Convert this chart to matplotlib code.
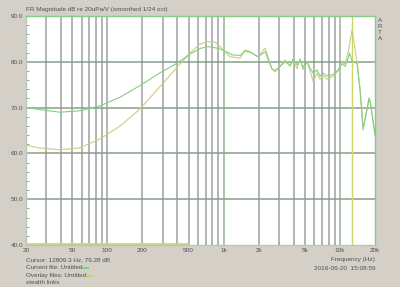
from __future__ import annotations

import matplotlib

matplotlib.use("Agg")
import matplotlib.pyplot as plt
from matplotlib.ticker import FixedLocator, NullFormatter

# current file (green) - frequency in Hz, magnitude in dB
current_freq = [20, 26, 39, 58, 87, 129, 191, 284, 398, 514, 627, 720, 800, 932,
                1135, 1180, 1384, 1528, 1687, 1976, 2270, 2607, 2767, 3055, 3373,
                3724, 3953, 4278, 4541, 4818, 5217, 5535, 5873, 6360, 6749, 7161,
                7751, 8726, 9634, 10428, 11066, 11742, 12090, 12711, 13488, 14033,
                14890, 15800, 16770, 17800, 18400, 20000]
current_db = [70.0, 69.6, 69.0, 69.3, 70.4, 72.3, 74.8, 77.6, 79.7, 81.7, 82.9,
              83.3, 83.2, 82.8, 81.8, 81.5, 81.4, 82.3, 82.1, 81.1, 82.2, 78.4,
              78.1, 79.0, 80.0, 79.2, 80.6, 79.3, 80.4, 78.8, 80.0, 78.6, 77.6,
              78.2, 76.9, 77.5, 76.9, 77.2, 78.2, 79.6, 79.0, 80.8, 81.9, 80.2,
              79.8, 79.6, 73.8, 65.5, 68.5, 72.0, 70.5, 64.0]

# overlay file (yellow)
overlay_freq = [20, 26, 39, 58, 87, 129, 191, 284, 398, 514, 627, 720, 844, 932,
                1135, 1384, 1528, 1687, 1976, 2270, 2607, 2767, 3055, 3373, 3724,
                3953, 4278, 4541, 4818, 5217, 5535, 5873, 6360, 6749, 7161, 7751,
                8726, 9634, 10428, 11066, 11742, 12711, 13488, 14033, 14890, 15800,
                16770, 17800, 18400, 20000]
overlay_db = [61.8, 61.2, 60.8, 61.2, 63.2, 66.0, 69.7, 74.6, 78.8, 81.9, 83.9,
              84.4, 84.3, 83.3, 81.1, 80.8, 82.6, 82.2, 81.1, 83.0, 78.4, 77.8,
              79.0, 80.4, 79.0, 80.4, 78.5, 80.7, 78.3, 80.0, 78.0, 75.7, 77.5,
              76.2, 77.0, 76.2, 76.8, 78.0, 80.0, 79.5, 82.0, 87.0, 82.6, 79.8,
              73.8, 65.1, 68.8, 72.2, 70.8, 64.0]

cursor_freq = 12809.3
window_band = [20, 500]

grid_freqs = [30, 40, 50, 60, 70, 80, 90, 100, 200, 300, 400, 500, 600, 700, 800,
              900, 1000, 2000, 3000, 4000, 5000, 6000, 7000, 8000, 9000, 10000]
x_tick_freqs = [20, 50, 100, 200, 500, 1000, 2000, 5000, 10000, 20000]
x_tick_labels = ["20", "50", "100", "200", "500", "1k", "2k", "5k", "10k", "20k"]
y_ticks = [40, 50, 60, 70, 80, 90]

BG = "#d4d0c8"
GREEN = "#80d080"
YELLOW = "#c8d080"
TXT = "#505050"
FS = 4.6
plt.rcParams["font.family"] = ["Liberation Sans", "DejaVu Sans"]


def draw(out_file: str = "out.png") -> None:
    fig = plt.figure(figsize=(4.0, 2.87), dpi=100, facecolor=BG)
    W, H = 400, 287
    ax = fig.add_axes([26 / W, (H - 245) / H, 349 / W, 229 / H])
    ax.set_facecolor("white")
    ax.set_xscale("log")
    ax.set_xlim(20, 20000)
    ax.set_ylim(40, 90)

    for f in grid_freqs:
        col = "#a0b8a0" if f in (1000, 10000) else "#a8a8a8"
        ax.axvline(f, color=col, lw=1.2, zorder=1)
    for v in y_ticks[1:-1]:
        ax.axhline(v, color="#88a088", lw=1.1, zorder=1)

    ax.plot(window_band, [40.25, 40.25], color="#c8d878", lw=2.0, zorder=2,
            solid_capstyle="butt")
    ax.axvline(cursor_freq, color="#d0d468", lw=1.0, zorder=2)

    ax.plot(overlay_freq, overlay_db, color=YELLOW, lw=0.8, zorder=3)
    ax.plot(current_freq, current_db, color=GREEN, lw=0.8, zorder=4)

    for side in ("left", "bottom"):
        ax.spines[side].set_color("#b8c8b8")
    for side in ("top", "right"):
        ax.spines[side].set_color("#88c888")
    for sp in ax.spines.values():
        sp.set_linewidth(1.0)

    ax.set_xticks(x_tick_freqs)
    ax.set_xticklabels(x_tick_labels)
    ax.xaxis.set_minor_locator(FixedLocator(grid_freqs))
    ax.xaxis.set_minor_formatter(NullFormatter())
    ax.set_yticks(y_ticks)
    ax.set_yticklabels([f"{v:.1f}" for v in y_ticks])
    ax.yaxis.set_minor_locator(FixedLocator(list(range(42, 90, 2))))
    ax.tick_params(axis="both", which="major", length=0, labelsize=FS,
                   colors=TXT, pad=2)
    ax.tick_params(axis="y", which="minor", direction="in", length=2.5,
                   color="#60b060", width=0.6)
    ax.tick_params(axis="x", which="minor", direction="in", length=2.5,
                   color="#80c080", width=0.6)

    fig.text(26 / W, 1 - 9 / H, "FR Magnitude dB re 20uPa/V (smoothed 1/24 oct)",
             fontsize=FS, color=TXT, va="center", ha="left")
    for i, ch in enumerate("ARTA"):
        fig.text(378 / W, 1 - (21 + i * 6) / H, ch, fontsize=FS, color=TXT,
                 va="center", ha="left")

    lines = ["Cursor: 12809.3 Hz, 79.28 dB", "Current file: Untitled",
             "Overlay files: Untitled", "stealth links"]
    texts = []
    for i, txt in enumerate(lines):
        y = 1 - (260 + i * 7.6) / H
        texts.append(fig.text(26 / W, y, txt, fontsize=FS, color=TXT,
                              va="center", ha="left"))

    # colour swatches right after the file names
    fig.canvas.draw()
    renderer = fig.canvas.get_renderer()
    for t, col in ((texts[1], GREEN), (texts[2], YELLOW)):
        bb = t.get_window_extent(renderer)
        x0 = bb.x1 / W + 1 / W
        y = t.get_position()[1] - 0.5 / H
        fig.add_artist(plt.Line2D([x0, x0 + 5 / W], [y, y], color=col, lw=1.5))

    fig.text(375 / W, 1 - 260 / H, "Frequency (Hz)", fontsize=FS, color=TXT,
             va="center", ha="right")
    fig.text(375 / W, 1 - 268 / H, "2016-06-20  15:08:59", fontsize=FS,
             color=TXT, va="center", ha="right")

    fig.savefig(out_file, dpi=100, facecolor=BG)
    plt.close(fig)


if __name__ == "__main__":
    draw()
